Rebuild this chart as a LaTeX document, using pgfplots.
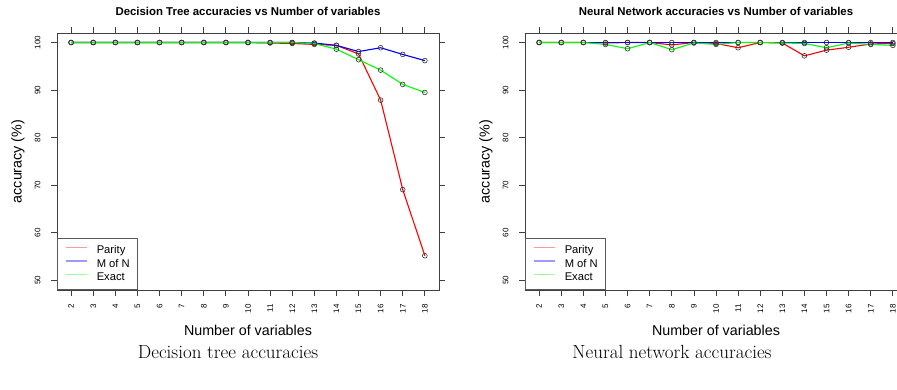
\documentclass[border=0pt]{standalone}
\usepackage{fontspec}
\usepackage{pgfplots}
\pgfplotsset{compat=1.18}
\newfontfamily\arial{Liberation Sans}
\definecolor{rred}{HTML}{FF0000}
\definecolor{rblue}{HTML}{0000FF}
\definecolor{rgreen}{HTML}{00FF00}
\definecolor{lred}{HTML}{FF9A9A}
\definecolor{lblue}{HTML}{9A9AFF}
\definecolor{lgreen}{HTML}{9AFF9A}
\pgfplotsset{
  every axis title shift=0pt,
  limg/.style={legend image code/.code={\draw[draw=#1, line width=1.4pt] (0pt,3pt) -- (21pt,3pt);}},
  rstyle/.style={
    scale only axis, width=382pt, height=257pt,
    xmin=1.36, xmax=18.64, ymin=48, ymax=102,
    xtick={2,...,18}, ytick={50,60,70,80,90,100},
    tick align=outside, major tick length=6pt,
    every tick/.style={black!75, line width=0.8pt},
    axis line style={black!75, line width=0.9pt},
    /pgf/number format/assume math mode=true,
    ticklabel style={font=\arial\fontsize{8}{9}\selectfont},
    xticklabel style={rotate=90, anchor=east},
    yticklabel style={rotate=90, anchor=south},
    xticklabel shift=5pt, yticklabel shift=7pt,
    title style={at={(axis description cs:0.5,1.0856)}, anchor=center, font=\arial\bfseries\fontsize{11.4}{13}\selectfont},
    xlabel style={at={(axis description cs:0.5,-0.1556)}, anchor=center, font=\arial\fontsize{14.3}{16}\selectfont},
    ylabel style={at={(axis description cs:-0.102,0.5)}, anchor=center, font=\arial\fontsize{14.3}{16}\selectfont},
    xlabel={Number of variables}, ylabel={accuracy (\%)},
    legend style={at={(axis description cs:0,0)}, anchor=south west, draw=black!65, line width=0.7pt,
      font=\arial\fontsize{11.2}{12}\selectfont, inner xsep=8pt, inner ysep=7pt, row sep=3.5pt, column sep=9pt,
      nodes={inner sep=0pt, text height=8pt, text depth=2pt}, cells={anchor=west}},
    every axis plot/.append style={line width=1.1pt, mark=o, mark size=2.4pt,
      mark options={draw=black!80, line width=0.6pt, fill=none}},
    clip=false,
  }
}
\begin{document}
\begin{tikzpicture}
\useasboundingbox (0pt,0pt) rectangle (897pt,390pt);
\clip (0pt,0pt) rectangle (897pt,390pt);
\begin{axis}[rstyle, at={(57pt,100pt)}, anchor=south west,
  title={Decision Tree accuracies vs Number of variables}]
\addlegendimage{limg=lred}\addlegendentry{Parity}
\addlegendimage{limg=lblue}\addlegendentry{M of N}
\addlegendimage{limg=lgreen}\addlegendentry{Exact}
\addplot[rred, forget plot] coordinates {(2,100)(3,100)(4,100)(5,100)(6,100)(7,100)(8,100)(9,100)(10,100)(11,99.9)(12,99.8)(13,99.6)(14,99.4)(15,97.6)(16,87.9)(17,69.1)(18,55.2)};
\addplot[rblue, forget plot] coordinates {(2,100)(3,100)(4,100)(5,100)(6,100)(7,100)(8,100)(9,100)(10,100)(11,100)(12,100)(13,99.9)(14,99.4)(15,98.1)(16,98.9)(17,97.5)(18,96.2)};
\addplot[rgreen, forget plot] coordinates {(2,100)(3,100)(4,100)(5,100)(6,100)(7,100)(8,100)(9,100)(10,100)(11,100)(12,100)(13,99.8)(14,98.6)(15,96.4)(16,94.2)(17,91.2)(18,89.5)};
\end{axis}
\begin{axis}[rstyle, at={(525pt,100pt)}, anchor=south west,
  title={Neural Network accuracies vs Number of variables}]
\addlegendimage{limg=lred}\addlegendentry{Parity}
\addlegendimage{limg=lblue}\addlegendentry{M of N}
\addlegendimage{limg=lgreen}\addlegendentry{Exact}
\addplot[rred, forget plot] coordinates {(2,100)(3,100)(4,100)(5,99.9)(6,100)(7,100)(8,99.5)(9,100)(10,99.8)(11,98.9)(12,100)(13,99.9)(14,97.2)(15,98.4)(16,99.0)(17,99.7)(18,99.8)};
\addplot[rblue, forget plot] coordinates {(2,100)(3,100)(4,100)(5,100)(6,100)(7,100)(8,100)(9,100)(10,100)(11,100)(12,100)(13,100)(14,100)(15,100)(16,100)(17,100)(18,100)};
\addplot[rgreen, forget plot] coordinates {(2,100)(3,100)(4,100)(5,99.6)(6,98.7)(7,100)(8,98.5)(9,99.9)(10,99.6)(11,100)(12,100)(13,99.9)(14,99.8)(15,98.9)(16,99.9)(17,99.6)(18,99.4)};
\end{axis}
\node[font=\fontsize{19}{22}\selectfont] at (228pt,38pt) {Decision tree accuracies};
\node[font=\fontsize{19}{22}\selectfont] at (672pt,38pt) {Neural network accuracies};
\end{tikzpicture}
\end{document}
